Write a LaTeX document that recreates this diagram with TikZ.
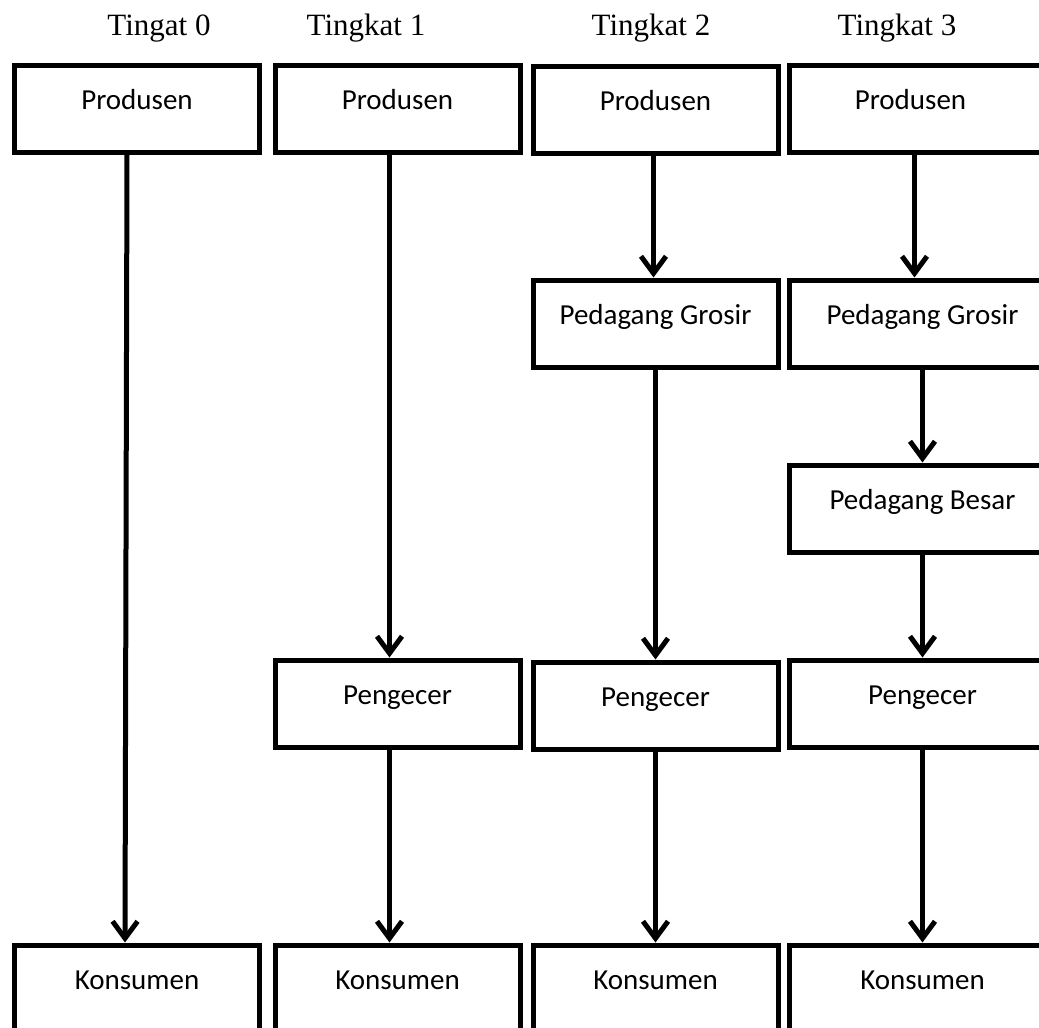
\documentclass[tikz,border=0pt]{standalone}
\usepackage{fontspec}
\setmainfont{Liberation Serif}
\newfontfamily\boxfont{Carlito}
\usetikzlibrary{arrows.meta}

\begin{document}
\begin{tikzpicture}[x=1pt, y=-1pt, line width=5pt,
        box/.style={draw, rectangle, anchor=north, minimum width=245pt, inner xsep=0pt, inner ysep=0pt,
            text height=44.5pt, text depth=42.5pt, font=\boxfont\fontsize{29}{34}\selectfont},
        wide/.style={minimum width=266pt},
        title/.style={anchor=base, font=\fontsize{31}{36}\selectfont},
        flow/.style={-{Straight Barb[length=17pt,width=25pt]}}]
        \useasboundingbox (0,0) rectangle (1039,1028);
        \clip (0,0) rectangle (1039,1028);
        % titles
        \node[title] (t0) at (159,35) {Tingat 0};
        \node[title] (t1) at (366,35) {Tingkat 1};
        \node[title] (t2) at (651,35) {Tingkat 2};
        \node[title] (t3) at (897,35) {Tingkat 3};
        % tingkat 0
        \node[box] (p0) at (137,62.5) {Produsen};
        \node[box] (k0) at (137,942.5) {Konsumen};
        \draw[flow] ([xshift=-10pt]p0.south) -- ([xshift=-12pt]k0.north);
        % tingkat 1
        \node[box] (p1) at (397.5,62.5) {Produsen};
        \node[box] (e1) at (397.5,657.5) {Pengecer};
        \node[box] (k1) at (397.5,942.5) {Konsumen};
        \draw[flow] ([xshift=-8pt]p1.south) -- ([xshift=-8pt]e1.north);
        \draw[flow] ([xshift=-8pt]e1.south) -- ([xshift=-8pt]k1.north);
        % tingkat 2
        \node[box] (p2) at (655.5,63.5) {Produsen};
        \node[box] (g2) at (655.5,277.5) {Pedagang Grosir};
        \node[box] (e2) at (655.5,659.5) {Pengecer};
        \node[box] (k2) at (655.5,942.5) {Konsumen};
        \draw[flow] ([xshift=-2pt]p2.south) -- ([xshift=-2pt]g2.north);
        \draw[flow] (g2) -- (e2);
        \draw[flow] (e2) -- (k2);
        % tingkat 3
        \node[box, wide] (p3) at (922.5,62.5) {\hspace*{-24pt}Produsen};
        \node[box, wide] (g3) at (922.5,277.5) {Pedagang Grosir};
        \node[box, wide] (b3) at (922.5,462.5) {Pedagang Besar};
        \node[box, wide] (e3) at (922.5,657.5) {Pengecer};
        \node[box, wide] (k3) at (922.5,942.5) {Konsumen};
        \draw[flow] ([xshift=-8pt]p3.south) -- ([xshift=-8pt]g3.north);
        \draw[flow] (g3) -- (b3);
        \draw[flow] (b3) -- (e3);
        \draw[flow] (e3) -- (k3);
\end{tikzpicture}
\end{document}
